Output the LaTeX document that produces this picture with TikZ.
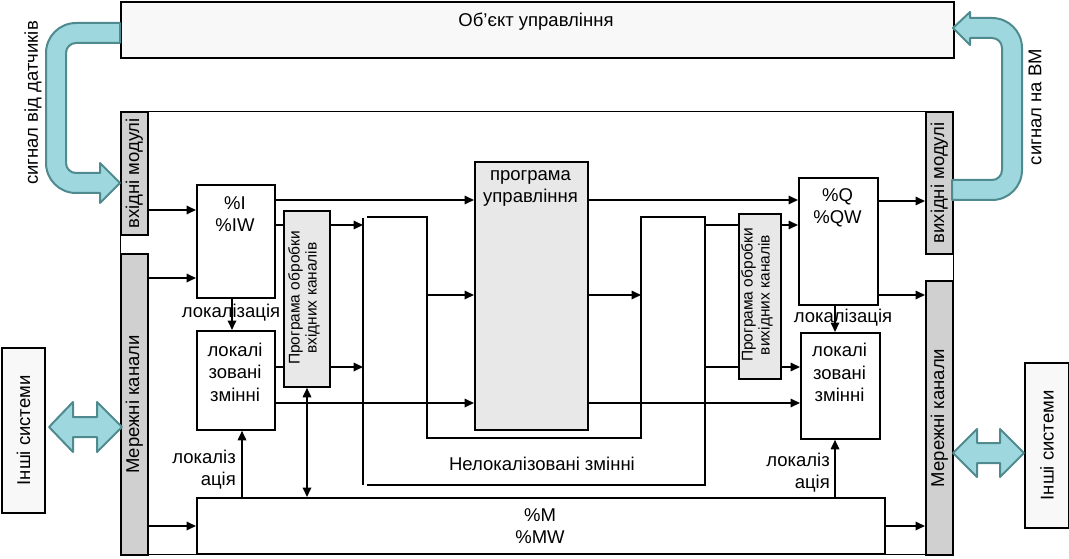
\documentclass[tikz,border=0pt]{standalone}
\usepackage{fontspec}
\setmainfont{Liberation Sans}
\usetikzlibrary{arrows.meta,backgrounds}
\definecolor{tealfill}{RGB}{158,216,222}
\definecolor{tealedge}{RGB}{78,138,142}
\definecolor{bargray}{RGB}{208,208,208}
\definecolor{proggray}{RGB}{232,232,232}
\definecolor{lightbox}{RGB}{248,248,248}
\newcommand\myst{\rule{0pt}{14pt}}
\begin{document}
\begin{tikzpicture}[x=1pt,y=1pt,yscale=-1,
  font=\fontsize{18.5}{22.5}\selectfont,
  box/.style={draw,line width=1.8pt,inner sep=0pt,anchor=north west},
  bar/.style={box,fill=bargray},
  progbox/.style={box,fill=proggray},
  lbox/.style={box,fill=lightbox},
  wbox/.style={box,fill=white},
  txt/.style={inner sep=0pt,align=center,anchor=north},
  rtxt/.style={inner sep=0pt,align=center,rotate=90},
  small/.style={font=\fontsize{15.5}{17}\selectfont},
  arr/.style={line width=1.7pt,-{Triangle[length=9.5pt,width=8.5pt]}},
  darr/.style={line width=1.7pt,{Triangle[length=9.5pt,width=8.5pt]}-{Triangle[length=9.5pt,width=8.5pt]}},
  ln/.style={line width=1.7pt},
  tealarrow/.style={fill=tealfill,draw=tealedge,line width=2pt,line join=round}]
\useasboundingbox (0,0) rectangle (1069,559);

% top object box
\node[lbox,minimum width=833pt,minimum height=56pt] (obj) at (120,1) {};
\node[txt] (objt) at (536,12) {\myst Об’єкт управління};

% main controller box
\node[draw,line width=1.2pt,inner sep=0pt,anchor=north west,minimum width=833pt,minimum height=443pt] (main) at (120,111) {};

% side bars
\node[bar,minimum width=27pt,minimum height=123pt] (vx) at (120,111) {};
\node[rtxt] (vxt) at (vx.center) {вхідні модулі};
\node[bar,minimum width=27pt,minimum height=301pt] (mlL) at (120,253) {};
\node[rtxt] (mlLt) at (mlL.center) {Мережні канали};
\node[bar,minimum width=27pt,minimum height=142pt] (vyx) at (925,111) {};
\node[rtxt] (vyxt) at (vyx.center) {вихідні модулі};
\node[bar,minimum width=27pt,minimum height=274pt] (mlR) at (925,280) {};
\node[rtxt] (mlRt) at (mlR.center) {Мережні канали};

% other systems
\node[lbox,minimum width=43pt,minimum height=165pt] (isL) at (1,347) {};
\node[rtxt] (isLt) at (isL.center) {Інші системи};
\node[lbox,minimum width=44pt,minimum height=165pt] (isR) at (1024,362) {};
\node[rtxt] (isRt) at (isR.center) {Інші системи};

% inner boxes
\node[wbox,minimum width=78pt,minimum height=113pt] (I) at (196,184) {};
\node[txt] (It) at (235,195) {\myst\%I\\\%IW};
\node[wbox,minimum width=78pt,minimum height=99pt] (locL) at (196,330) {};
\node[txt] (locLt) at (235,342) {\myst локалі\\зовані\\змінні};
\node[progbox,minimum width=46pt,minimum height=176pt] (pin) at (283,210) {};
\node[rtxt,small] (pint) at (304,298) {Програма обробки\\вхідних каналів};
\node[progbox,minimum width=113pt,minimum height=268pt] (pc) at (474,161) {};
\node[txt] (pct) at (530.5,166) {\myst програма\\управління};
\node[wbox,minimum width=79pt,minimum height=127pt] (Q) at (798,177) {};
\node[txt] (Qt) at (837.5,187) {\myst\%Q\\\%QW};
\node[wbox,minimum width=79pt,minimum height=106pt] (locR) at (800,332) {};
\node[txt] (locRt) at (839.5,342.5) {\myst локалі\\зовані\\змінні};
\node[progbox,minimum width=42pt,minimum height=165pt] (pout) at (738,213) {};
\node[rtxt,small] (poutt) at (757,295) {Програма обробки\\вихідних каналів};
\node[wbox,minimum width=688pt,minimum height=56pt] (M) at (196,497) {};
\node[txt] (Mt) at (540,507) {\myst\%M\\\%MW};

% labels
\node[txt] (lz1) at (231,303) {\myst локалізація};
\node[txt] (lz2) at (843,308) {\myst локалізація};
\node[txt,align=right,anchor=north east] (lz3) at (236,449) {\myst локаліз\\ація};
\node[txt,align=right,anchor=north east] (lz4) at (830,452) {\myst локаліз\\ація};
\node[txt] (nl) at (542,456) {\myst Нелокалізовані змінні};
\node[rtxt] (sig1) at (33,103) {сигнал від датчиків};
\node[rtxt] (sig2) at (1035,107) {сигнал на ВМ};

% non-localised variables bus
\coordinate (busL) at (363,300);
\coordinate (busIn) at (427,300);
\coordinate (busOut) at (641,300);
\coordinate (busR) at (705,300);
\draw[ln] (363,218) -- (363,485);
\draw[ln] (367,217) -- (427,217) -- (427,438) -- (641,438) -- (641,217) -- (705,217) -- (705,485) -- (367,485);

% connectors
\begin{scope}[on background layer]
\draw[arr] (vx.east |- 0,210) -- (I.west |- 0,210);
\draw[arr] (mlL.east |- 0,278) -- (I.west |- 0,278);
\draw[arr] (mlL.east |- 0,526) -- (M.west |- 0,526);
\draw[arr] (I.south -| 232,0) -- (locL.north -| 232,0);
\draw[arr] (M.north -| 242,0) -- (locL.south -| 242,0);
\draw[darr] (pin.south -| 307,0) -- (M.north -| 307,0);
\draw[arr] (I.east |- 0,200) -- (pc.west |- 0,200);
\draw[arr] (I.east |- 0,225) -- (busL |- 0,225);
\draw[arr] (locL.east |- 0,367) -- (busL |- 0,367);
\draw[arr] (locL.east |- 0,403) -- (pc.west |- 0,403);
\draw[arr] (busIn |- 0,295) -- (pc.west |- 0,295);
\draw[arr] (pc.east |- 0,295) -- (busOut |- 0,295);
\draw[arr] (pc.east |- 0,200) -- (Q.west |- 0,200);
\draw[arr] (busR |- 0,225) -- (Q.west |- 0,225);
\draw[arr] (busR |- 0,367) -- (locR.west |- 0,367);
\draw[arr] (pc.east |- 0,403) -- (locR.west |- 0,403);
\draw[arr] (Q.south -| 835,0) -- (locR.north -| 835,0);
\draw[arr] (M.north -| 835,0) -- (locR.south -| 835,0);
\draw[arr] (Q.east |- 0,201) -- (vyx.west |- 0,201);
\draw[arr] (Q.east |- 0,295) -- (mlR.west |- 0,295);
\draw[arr] (M.east |- 0,526) -- (mlR.west |- 0,526);
\end{scope}

% teal signal arrows
\draw[tealarrow] (120,23) -- (76,23) arc[start angle=270,end angle=180,radius=30]
  -- (46,163) arc[start angle=180,end angle=90,radius=30]
  -- (100,193) -- (100,203) -- (120,183) -- (100,163) -- (100,173) -- (76,173)
  arc[start angle=90,end angle=180,radius=10]
  -- (66,53) arc[start angle=180,end angle=270,radius=10]
  -- (120,43) -- cycle;
\draw[tealarrow] (952,200) -- (992,200) arc[start angle=90,end angle=0,radius=30]
  -- (1022,48) arc[start angle=0,end angle=-90,radius=30]
  -- (970,18) -- (970,12) -- (953,28) -- (970,45) -- (970,38) -- (992,38)
  arc[start angle=-90,end angle=0,radius=10]
  -- (1002,170) arc[start angle=0,end angle=90,radius=10]
  -- (952,180) -- cycle;
% double arrows to other systems
\draw[tealarrow] (49,427) -- (73,402) -- (73,417) -- (97,417) -- (97,402) -- (122,427)
  -- (97,452) -- (97,437) -- (73,437) -- (73,452) -- cycle;
\draw[tealarrow] (953,453) -- (977,429) -- (977,443) -- (1000,443) -- (1000,429) -- (1024,453)
  -- (1000,477) -- (1000,463) -- (977,463) -- (977,477) -- cycle;
\end{tikzpicture}
\end{document}
